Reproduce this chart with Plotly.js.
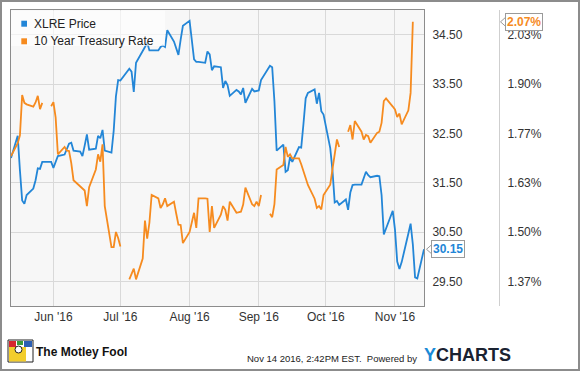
<!DOCTYPE html>
<html><head><meta charset="utf-8">
<script src="https://cdn.plot.ly/plotly-3.0.1.min.js"></script>
<style>html,body{margin:0;padding:0;background:#fff;overflow:hidden}#chart{width:580px;height:371px}</style>
</head><body><div id="chart"></div>
<script>
// ---------- data ----------
const seriesNames = ['XLRE Price', '10 Year Treasury Rate'];

const priceDates = [
'2016-05-13','2016-05-16','2016-05-17','2016-05-18','2016-05-19','2016-05-20',
'2016-05-23','2016-05-24','2016-05-25','2016-05-26','2016-05-27','2016-05-31',
'2016-06-01','2016-06-02','2016-06-03','2016-06-06','2016-06-07','2016-06-08','2016-06-09','2016-06-10',
'2016-06-13','2016-06-14','2016-06-15','2016-06-16','2016-06-17','2016-06-20','2016-06-21','2016-06-22',
'2016-06-23','2016-06-24','2016-06-27','2016-06-28','2016-06-29','2016-06-30','2016-07-01',
'2016-07-05','2016-07-06','2016-07-07','2016-07-08','2016-07-11','2016-07-12','2016-07-13','2016-07-14',
'2016-07-15','2016-07-18','2016-07-19','2016-07-20','2016-07-21','2016-07-22','2016-07-25','2016-07-26',
'2016-07-27','2016-07-28','2016-07-29','2016-08-01','2016-08-02','2016-08-03','2016-08-04','2016-08-05',
'2016-08-08','2016-08-09','2016-08-10','2016-08-11','2016-08-12','2016-08-15','2016-08-16','2016-08-17',
'2016-08-18','2016-08-19','2016-08-22','2016-08-23','2016-08-24','2016-08-25','2016-08-26','2016-08-29',
'2016-08-30','2016-08-31','2016-09-01','2016-09-02','2016-09-06','2016-09-07','2016-09-08','2016-09-09',
'2016-09-12','2016-09-13','2016-09-14','2016-09-15','2016-09-16','2016-09-19','2016-09-20','2016-09-21',
'2016-09-22','2016-09-23','2016-09-26','2016-09-27','2016-09-28','2016-09-29','2016-09-30',
'2016-10-03','2016-10-04','2016-10-05','2016-10-06','2016-10-07','2016-10-10','2016-10-11','2016-10-12',
'2016-10-13','2016-10-14','2016-10-17','2016-10-18','2016-10-19','2016-10-20','2016-10-21','2016-10-24',
'2016-10-25','2016-10-26','2016-10-27','2016-10-28','2016-10-31','2016-11-01','2016-11-02','2016-11-03',
'2016-11-04','2016-11-07','2016-11-08','2016-11-09','2016-11-10','2016-11-11','2016-11-14'];

const priceValues = [
32.00,32.45,31.75,31.14,31.07,31.25,
31.38,31.55,31.79,31.78,31.92,31.92,
31.80,31.92,32.04,32.07,32.18,32.29,32.31,32.15,
32.13,32.04,32.25,32.48,32.17,32.19,32.45,32.40,
32.57,32.15,32.11,32.55,33.25,33.58,33.57,
33.81,33.75,33.34,33.93,34.15,34.25,34.34,34.18,
34.18,34.18,34.25,34.28,34.25,34.59,34.36,34.23,
34.09,34.40,34.68,34.78,34.40,34.00,33.95,33.95,
33.93,34.16,34.10,33.78,33.86,33.84,33.42,33.56,
33.48,33.26,33.38,33.35,33.29,33.42,33.12,33.40,
33.35,33.36,33.37,33.58,33.87,33.84,33.15,32.15,
32.27,31.72,31.75,32.02,31.92,32.22,32.21,32.69,
33.21,33.32,33.39,33.10,33.32,32.95,32.88,
32.20,31.75,31.10,31.13,31.05,31.16,30.95,31.30,
31.45,31.46,31.46,31.58,31.72,31.65,31.61,31.64,
31.63,31.25,30.45,30.57,30.93,30.55,29.90,29.75,
29.89,30.47,30.67,30.25,29.58,29.56,30.15];

const rateDates = [
'2016-05-13','2016-05-16','2016-05-17','2016-05-18','2016-05-19','2016-05-20',
'2016-05-23','2016-05-24','2016-05-25','2016-05-26','2016-05-27','2016-05-30','2016-05-31',
'2016-06-01','2016-06-02','2016-06-03','2016-06-06','2016-06-07','2016-06-08','2016-06-09','2016-06-10',
'2016-06-13','2016-06-14','2016-06-15','2016-06-16','2016-06-17','2016-06-20','2016-06-21','2016-06-22',
'2016-06-23','2016-06-24','2016-06-27','2016-06-28','2016-06-29','2016-06-30','2016-07-01','2016-07-04',
'2016-07-05','2016-07-06','2016-07-07','2016-07-08','2016-07-11','2016-07-12','2016-07-13','2016-07-14',
'2016-07-15','2016-07-18','2016-07-19','2016-07-20','2016-07-21','2016-07-22','2016-07-25','2016-07-26',
'2016-07-27','2016-07-28','2016-07-29','2016-08-01','2016-08-02','2016-08-03','2016-08-04','2016-08-05',
'2016-08-08','2016-08-09','2016-08-10','2016-08-11','2016-08-12','2016-08-15','2016-08-16','2016-08-17',
'2016-08-18','2016-08-19','2016-08-22','2016-08-23','2016-08-24','2016-08-25','2016-08-26','2016-08-29',
'2016-08-30','2016-08-31','2016-09-01','2016-09-02','2016-09-05','2016-09-06','2016-09-07','2016-09-08','2016-09-09',
'2016-09-12','2016-09-13','2016-09-14','2016-09-15','2016-09-16','2016-09-19','2016-09-20','2016-09-21',
'2016-09-22','2016-09-23','2016-09-26','2016-09-27','2016-09-28','2016-09-29','2016-09-30',
'2016-10-03','2016-10-04','2016-10-05','2016-10-06','2016-10-07','2016-10-10','2016-10-11','2016-10-12',
'2016-10-13','2016-10-14','2016-10-17','2016-10-18','2016-10-19','2016-10-20','2016-10-21','2016-10-24',
'2016-10-25','2016-10-26','2016-10-27','2016-10-28','2016-10-31','2016-11-01','2016-11-02','2016-11-03',
'2016-11-04','2016-11-07','2016-11-08','2016-11-09'];

const rateValues = [
1.705,1.740,1.761,1.870,1.849,1.845,
1.839,1.850,1.868,1.832,1.849,null,1.840,
1.851,1.809,1.710,1.730,1.720,1.719,1.686,1.640,
1.622,1.618,1.612,1.570,1.621,1.669,1.710,1.690,
1.737,1.570,1.459,1.459,1.500,1.484,1.461,null,
1.372,1.385,1.401,1.372,1.428,1.531,1.482,1.525,
1.600,1.591,1.565,1.575,1.591,1.570,1.582,1.550,
1.520,1.519,1.470,1.500,1.530,1.552,1.511,1.591,
1.591,1.590,1.500,1.570,1.511,1.547,1.570,1.560,
1.531,1.582,1.552,1.553,1.555,1.574,1.620,1.575,
1.570,1.582,1.570,1.600,null,1.549,1.540,1.575,1.669,
1.681,1.730,1.703,1.710,1.699,1.699,1.683,1.663,
1.642,1.627,1.590,1.565,1.570,1.561,1.600,
1.628,1.670,1.710,1.750,1.730,null,1.771,1.789,
1.750,1.800,1.771,1.750,1.762,1.759,1.741,1.768,
1.771,1.795,1.854,1.861,1.839,1.831,1.811,1.820,
1.791,1.829,1.876,2.068];

const priceTicks = [29.5, 30.5, 31.5, 32.5, 33.5, 34.5];
const rateTicks = [1.366667, 1.5, 1.633333, 1.766667, 1.9, 2.033333];
const rateTickText = ['1.37%', '1.50%', '1.63%', '1.77%', '1.90%', '2.03%'];
const monthTicks = ['2016-06-01','2016-07-01','2016-08-01','2016-09-01','2016-10-01','2016-11-01'];
const monthLabels = ["Jun '16","Jul '16","Aug '16","Sep '16","Oct '16","Nov '16"];
const footerStamp = 'Nov 14 2016, 2:42PM EST.\u00a0 Powered by';

// ---------- styling / layout ----------
const BLUE = '#2386d7', ORANGE = '#f68b1f';
const FONT = 'Liberation Sans, Arial, sans-serif';
const WIDTH = 580, HEIGHT = 371;
const ML = 11, MR = 20, MT = 10, MB = 65;
const PW = WIDTH - ML - MR, PH = HEIGHT - MT - MB;
const px = x => (x - ML) / PW;
const py = y => (HEIGHT - MB - y) / PH;

const lastPrice = priceValues[priceValues.length - 1];
const lastRate = rateValues.filter(v => v !== null).slice(-1)[0];

const traces = [
  {type: 'scatter', mode: 'lines', name: seriesNames[0], x: priceDates, y: priceValues,
   yaxis: 'y', line: {color: BLUE, width: 1.8}, hoverinfo: 'skip'},
  {type: 'scatter', mode: 'lines', name: seriesNames[1], x: rateDates, y: rateValues,
   yaxis: 'y2', connectgaps: false, line: {color: ORANGE, width: 1.8}, hoverinfo: 'skip'}
];

const rectPx = (x0, y0, x1, y1, extra) => Object.assign({
  type: 'rect', xref: 'paper', yref: 'paper',
  x0: px(x0), x1: px(x1), y0: py(y0), y1: py(y1), layer: 'above'
}, extra);

const shapes = [
  // legend backdrop
  rectPx(11, 10.5, 165, 46, {fillcolor: 'rgba(255,255,255,0.62)', line: {width: 0}}),
  rectPx(21.3, 20.7, 27, 26.7, {fillcolor: BLUE, line: {width: 0}}),
  rectPx(21.3, 38.3, 27, 44.3, {fillcolor: ORANGE, line: {width: 0}}),
  // callout notches
  {type: 'path', xref: 'paper', yref: 'y', layer: 'above',
   path: `M ${px(431.5)},${lastPrice + 0.09} L ${px(426.5)},${lastPrice} L ${px(431.5)},${lastPrice - 0.09} Z`,
   fillcolor: '#ffffff', line: {color: '#9a9a9a', width: 1}},
  {type: 'path', xref: 'paper', yref: 'y2', layer: 'above',
   path: `M ${px(505.5)},${lastRate + 0.012} L ${px(500.5)},${lastRate} L ${px(505.5)},${lastRate - 0.012} Z`,
   fillcolor: '#ffffff', line: {color: '#9a9a9a', width: 1}},
  // jester logo (approximation)
  rectPx(8, 340, 33, 362, {fillcolor: '#ffffff', line: {color: '#222', width: 1}}),
  rectPx(9, 347, 26, 361.5, {fillcolor: '#f2cd2c', line: {width: 0}}),
  rectPx(9, 341, 16, 347, {fillcolor: '#d6262e', line: {width: 0}}),
  rectPx(17, 341, 23, 345, {fillcolor: '#3b9a3d', line: {width: 0}}),
  rectPx(24, 341, 32, 347, {fillcolor: '#2c5fb3', line: {width: 0}}),
  {type: 'circle', xref: 'paper', yref: 'paper', layer: 'above',
   x0: px(15), x1: px(22), y0: py(346), y1: py(353), fillcolor: '#ffffff', line: {color: '#222', width: 1}},
  // outer frame
  rectPx(1, 1, 579, 370, {fillcolor: 'rgba(0,0,0,0)', line: {color: '#8c8c8c', width: 2}})
];

const textFont = {family: FONT, size: 12, color: '#222'};
const annotations = [
  {xref: 'paper', yref: 'paper', x: px(32.3), y: py(24), xanchor: 'left', yanchor: 'middle',
   text: seriesNames[0], showarrow: false, font: textFont},
  {xref: 'paper', yref: 'paper', x: px(32.3), y: py(41), xanchor: 'left', yanchor: 'middle',
   text: seriesNames[1], showarrow: false, font: textFont},
  {xref: 'paper', yref: 'y', x: px(431), y: lastPrice, xanchor: 'left', yanchor: 'middle',
   text: '<b>' + lastPrice.toFixed(2) + '</b>', showarrow: false,
   bgcolor: '#ffffff', bordercolor: '#9a9a9a', borderwidth: 1, borderpad: 1,
   font: {family: FONT, size: 12, color: BLUE}},
  {xref: 'paper', yref: 'y2', x: px(505), y: lastRate, xanchor: 'left', yanchor: 'middle',
   text: '<b>' + lastRate.toFixed(2) + '%</b>', showarrow: false,
   bgcolor: '#ffffff', bordercolor: '#9a9a9a', borderwidth: 1, borderpad: 1,
   font: {family: FONT, size: 12, color: ORANGE}},
  {xref: 'paper', yref: 'paper', x: px(34), y: py(351.5), xanchor: 'left', yanchor: 'middle',
   text: '<b>The Motley Fool</b>', showarrow: false,
   font: {family: 'Liberation Sans Narrow, Arial Narrow, sans-serif', size: 12, color: '#111'}},
  {xref: 'paper', yref: 'paper', x: px(245), y: py(358), xanchor: 'left', yanchor: 'middle',
   text: footerStamp, showarrow: false, font: {family: FONT, size: 9.5, color: '#222'}},
  {xref: 'paper', yref: 'paper', x: px(422), y: py(354.5), xanchor: 'left', yanchor: 'middle',
   text: '<b><span style="color:#1b8ad6">Y</span>CHARTS</b>', showarrow: false,
   font: {family: FONT, size: 18, color: '#1a2231'}}
];

const layout = {
  width: WIDTH, height: HEIGHT,
  margin: {l: ML, r: MR, t: MT, b: MB, pad: 0},
  paper_bgcolor: '#ffffff', plot_bgcolor: '#f7f7f7',
  showlegend: false,
  font: {family: FONT, size: 12, color: '#333'},
  xaxis: {
    domain: [0, px(424)], type: 'date', range: ['2016-05-13', '2016-11-14'],
    tickvals: monthTicks, ticktext: monthLabels, ticks: '',
    showgrid: true, gridcolor: '#d9d9d9', gridwidth: 1,
    showline: true, mirror: true, linecolor: '#8c8c8c', linewidth: 1,
    zeroline: false, tickfont: {family: FONT, size: 12, color: '#333'}, fixedrange: true
  },
  yaxis: {
    side: 'right', anchor: 'x', range: [29, 35],
    tickvals: priceTicks, tickformat: '.2f',
    ticks: 'outside', ticklen: 5, tickcolor: 'rgba(0,0,0,0)',
    showgrid: true, gridcolor: '#d9d9d9', gridwidth: 1,
    showline: true, mirror: true, linecolor: '#8c8c8c', linewidth: 1,
    zeroline: false, tickfont: {family: FONT, size: 12, color: '#333'}, fixedrange: true
  },
  yaxis2: {
    overlaying: 'y', side: 'right', anchor: 'free', position: px(499),
    range: [1.3, 2.1], tickvals: rateTicks, ticktext: rateTickText,
    ticks: 'outside', ticklen: 5, tickcolor: 'rgba(0,0,0,0)',
    showgrid: false, zeroline: false,
    showline: true, linecolor: '#cfcfcf', linewidth: 1,
    tickfont: {family: FONT, size: 12, color: '#333'}, fixedrange: true
  },
  shapes: shapes,
  annotations: annotations
};

Plotly.newPlot('chart', traces, layout, {displayModeBar: false, staticPlot: true});
</script>
</body></html>
